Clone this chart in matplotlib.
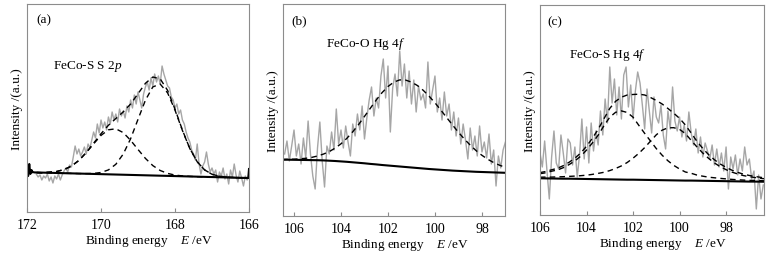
import matplotlib
matplotlib.use("Agg")
import matplotlib.pyplot as plt
import numpy as np

plt.rcParams['font.family'] = ['Liberation Serif', 'DejaVu Serif']
plt.rcParams['mathtext.fontset'] = 'custom'
plt.rcParams['mathtext.rm'] = 'Liberation Serif'
plt.rcParams['mathtext.it'] = 'Liberation Serif:italic'

# ---------------- panel (a) FeCo-S S 2p ----------------
raw_a = [38, 35, 37, 32, 36, 34, 38, 31, 35, 29, 36, 33, 38, 32, 37,
         41, 44, 40, 47, 45,
         55, 66, 58, 63, 56,
         60, 65, 58, 68, 64, 72,
         80, 74, 88, 79, 92, 84, 90, 82, 95,
         88, 100, 92, 98, 90, 103, 96, 101, 94,
         106, 100, 112, 104, 117, 108, 120, 112,
         104, 118, 125,
         130, 122, 134, 126, 138, 130, 136, 128, 146,
         138, 132, 126, 124, 115,
         112, 104, 108, 98, 102, 92, 88,
         80, 74, 70, 62, 58, 52,
         68, 48, 38, 46,
         50, 60, 48, 40, 44, 38, 42,
         30, 40, 36, 44, 33, 38, 28, 42, 35, 48, 37, 30, 41, 34, 26, 36, 32, 38]
e_raw_a = np.linspace(171.75, 166.0, len(raw_a))

bg_e_a = [172.0, 171.97, 171.94, 171.91, 171.88, 171.85, 171.8, 166.02, 166.0]
bg_a = [44, 36, 48, 38, 42, 40, 39.6, 34, 43]

peak1_a = [39.7, 39.5, 39.3, 39.1, 38.9, 38.7, 38.6, 38.4, 38.4, 38.6, 39.5,
           42.1, 47.7, 57.9, 73.3, 92.7, 111.8, 125.1, 127.9, 119.1, 101.8,
           81.5, 63.4, 50.2, 42.1, 37.7, 35.8, 34.9, 34.4, 34.2, 34.0]
peak2_a = [39.7, 39.5, 39.3, 39.8, 40.5, 42.4, 45.9, 51.5, 59.3, 68.2, 76.6,
           82.2, 83.2, 79.4, 71.7, 62.5, 53.6, 46.4, 41.5, 38.6, 36.9,
           36.1, 35.6, 35.3, 35.1, 34.9, 34.8, 34.6, 34.4, 34.2, 34.0]
env_a = [39.7, 39.5, 39.3, 39.8, 40.5, 42.4, 45.9, 51.5, 59.5, 68.8, 78.3,
         86.7, 93.5, 100.1, 108.0, 118.3, 128.7, 135.0, 133.1, 121.6, 102.8,
         81.9, 63.5, 50.2, 42.1, 37.7, 35.8, 34.9, 34.4, 34.2, 34.0]
e_fit_a = np.linspace(172.0, 166.0, len(env_a))

# ---------------- panel (b) FeCo-O Hg 4f ----------------
raw_b = [62, 75, 55, 70, 86, 60, 72, 52, 78, 58,
         95, 62, 40, 27, 68, 94, 55, 29, 70, 62,
         84, 66, 107, 72, 86, 68, 90, 74, 60, 92,
         80, 102, 86, 110, 77, 98, 116, 129, 100, 118,
         108, 140, 157, 118, 150, 84, 128, 142, 120, 165,
         130, 152, 118, 145, 112, 136, 104, 130, 116, 122,
         108, 154, 112, 126, 140, 104, 118, 96, 124, 100,
         112, 86, 104, 80, 98, 72, 92, 76, 57, 88,
         66, 80, 60, 90, 64, 74, 58, 82, 52, 66,
         30, 60, 48, 66, 74]
e_raw_b = np.linspace(106.4, 97.0, len(raw_b))

bg_b = [56.3, 56.3, 56.2, 56.1, 56.0, 55.9, 55.8, 55.6, 55.3, 55.0,
        54.6, 54.2, 53.7, 53.2, 52.7, 52.1, 51.6, 51.0, 50.5, 50.0,
        49.5, 49.0, 48.5, 48.0, 47.5, 47.0, 46.6, 46.2, 45.8, 45.4,
        45.1, 44.8, 44.5, 44.2, 44.0, 43.8, 43.6, 43.4, 43.2]
env_b = [56.5, 56.7, 56.8, 57.2, 57.7, 58.6, 60.0, 61.9, 64.4, 67.9,
         72.2, 77.7, 84.2, 91.5, 99.6, 107.8, 116.0, 123.4, 129.5, 133.9,
         136.1, 135.9, 133.9, 130.5, 125.7, 119.8, 113.2, 105.9, 98.4, 90.9,
         83.7, 77.0, 70.9, 65.4, 60.7, 56.7, 53.4, 50.8, 48.6]
e_fit_b = np.linspace(106.5, 97.0, len(env_b))

# ---------------- panel (c) FeCo-S Hg 4f ----------------
raw_c = [62, 48, 74, 44, 16, 58, 84, 52, 46, 80,
         62, 42, 76, 72, 50, 68, 38, 60, 96, 56,
         88, 52, 92, 64, 84, 70, 104, 80, 116, 92,
         148, 112, 136, 100, 128, 96, 140, 148, 108, 130,
         96, 124, 143, 132, 110, 86, 126, 104, 82, 118,
         98, 92, 110, 80, 66, 104, 86, 128, 94, 84,
         98, 78, 90, 74, 103, 82, 70, 86, 62, 78,
         58, 72, 64, 56, 70, 50, 66, 48, 62, 44,
         68, 26, 58, 46, 60, 40, 56, 44, 68, 50,
         56, 36, 44, 6, 40, 16, 30]
e_raw_c = np.linspace(106.0, 96.4, len(raw_c))

bg_c = [36.7, 36.6, 36.5, 36.4, 36.3, 36.3, 36.2, 36.1, 36.0, 35.9,
        35.8, 35.7, 35.6, 35.5, 35.4, 35.3, 35.3, 35.2, 35.1, 35.0,
        34.9, 34.8, 34.7, 34.6, 34.5, 34.4, 34.4, 34.3, 34.2, 34.1,
        34.0, 33.9, 33.8, 33.7, 33.6, 33.5, 33.4, 33.4, 33.3, 33.2]
peak1_c = [41.3, 42.2, 43.8, 45.0, 47.3, 50.4, 54.1, 58.8, 64.9, 72.0,
           79.8, 89.3, 97.8, 102.7, 104.1, 102.5, 97.8, 89.6, 81.6, 74.0,
           66.4, 59.8, 54.2, 49.6, 46.0, 43.0, 41.7, 39.9, 38.8, 37.8,
           37.2, 36.6, 36.1, 35.6, 35.2, 34.9, 34.6, 34.5, 34.3, 34.1]
peak2_c = [37.8, 37.9, 37.9, 38.1, 38.3, 38.6, 38.9, 39.3, 39.8, 40.6,
           41.6, 42.7, 44.4, 46.5, 49.1, 52.5, 56.8, 61.7, 67.4, 73.8,
           80.2, 84.8, 87.2, 87.3, 85.6, 81.4, 74.6, 68.0, 61.9, 56.6,
           52.0, 48.3, 45.3, 42.9, 41.0, 39.4, 38.3, 37.4, 36.6, 36.0]
env_c = [42.4, 43.5, 45.2, 46.7, 49.3, 52.7, 56.8, 62.0, 68.7, 76.7,
         85.6, 96.3, 106.6, 113.7, 117.8, 120.0, 120.5, 120.8, 120.0, 117.5,
         114.5, 111.0, 106.5, 101.8, 96.6, 90.0, 81.9, 73.6, 66.5, 60.3,
         55.2, 51.0, 47.6, 44.8, 42.6, 40.8, 39.5, 38.5, 37.6, 36.9]
e_fit_c = np.linspace(106.0, 96.25, len(env_c))

fig = plt.figure(figsize=(7.7, 2.55), dpi=100)
ax1 = fig.add_axes([0.0351, 0.1647, 0.2883, 0.8157])
ax2 = fig.add_axes([0.3675, 0.1490, 0.2883, 0.8314])
ax3 = fig.add_axes([0.7013, 0.1530, 0.2909, 0.8235])

gray = '#a6a6a6'
dash = dict(color='k', lw=1.0, linestyle=(0, (4, 3)))

ax1.plot(e_raw_a, raw_a, color=gray, lw=1.0)
ax1.plot(e_fit_a, peak1_a, **dash)
ax1.plot(e_fit_a, peak2_a, **dash)
ax1.plot(e_fit_a, env_a, **dash)
ax1.plot(bg_e_a, bg_a, color='k', lw=1.5)

ax2.plot(e_raw_b, raw_b, color=gray, lw=1.0)
ax2.plot(e_fit_b, env_b, **dash)
ax2.plot(e_fit_b, bg_b, color='k', lw=1.5)

ax3.plot(e_raw_c, raw_c, color=gray, lw=1.0)
ax3.plot(e_fit_c, peak1_c, **dash)
ax3.plot(e_fit_c, peak2_c, **dash)
ax3.plot(e_fit_c, env_c, **dash)
ax3.plot(e_fit_c, bg_c, color='k', lw=1.5)

ax1.set_xlim(172, 166)
ax1.set_ylim(0, 208)
ax1.set_xticks([172, 170, 168, 166])
ax2.set_xlim(106.47, 97.02)
ax2.set_ylim(0, 212)
ax2.set_xticks([106, 104, 102, 100, 98])
ax3.set_xlim(106, 96.37)
ax3.set_ylim(0, 210)
ax3.set_xticks([106, 104, 102, 100, 98])

for ax in (ax1, ax2, ax3):
    for s in ax.spines.values():
        s.set_color('#8c8c8c')
        s.set_linewidth(0.8)
    ax.set_yticks([])
    ax.tick_params(axis='x', direction='in', length=3, color='#8c8c8c',
                   labelsize=10, pad=4)
    ax.set_ylabel('Intensity /(a.u.)', fontsize=9.5, labelpad=3)
    ax.set_xlabel('Binding energy    $E$ /eV', fontsize=9.5, labelpad=1, x=0.55)

ax1.text(0.04, 0.91, '(a)', transform=ax1.transAxes, fontsize=9.5)
ax1.text(0.115, 0.69, 'FeCo-S S 2$p$', transform=ax1.transAxes, fontsize=9.5)
ax2.text(0.04, 0.91, '(b)', transform=ax2.transAxes, fontsize=9.5)
ax2.text(0.195, 0.80, 'FeCo-O Hg 4$f$', transform=ax2.transAxes, fontsize=9.5)
ax3.text(0.035, 0.91, '(c)', transform=ax3.transAxes, fontsize=9.5)
ax3.text(0.13, 0.75, 'FeCo-S Hg 4$f$', transform=ax3.transAxes, fontsize=9.5)

fig.savefig('out.png', dpi=100)
